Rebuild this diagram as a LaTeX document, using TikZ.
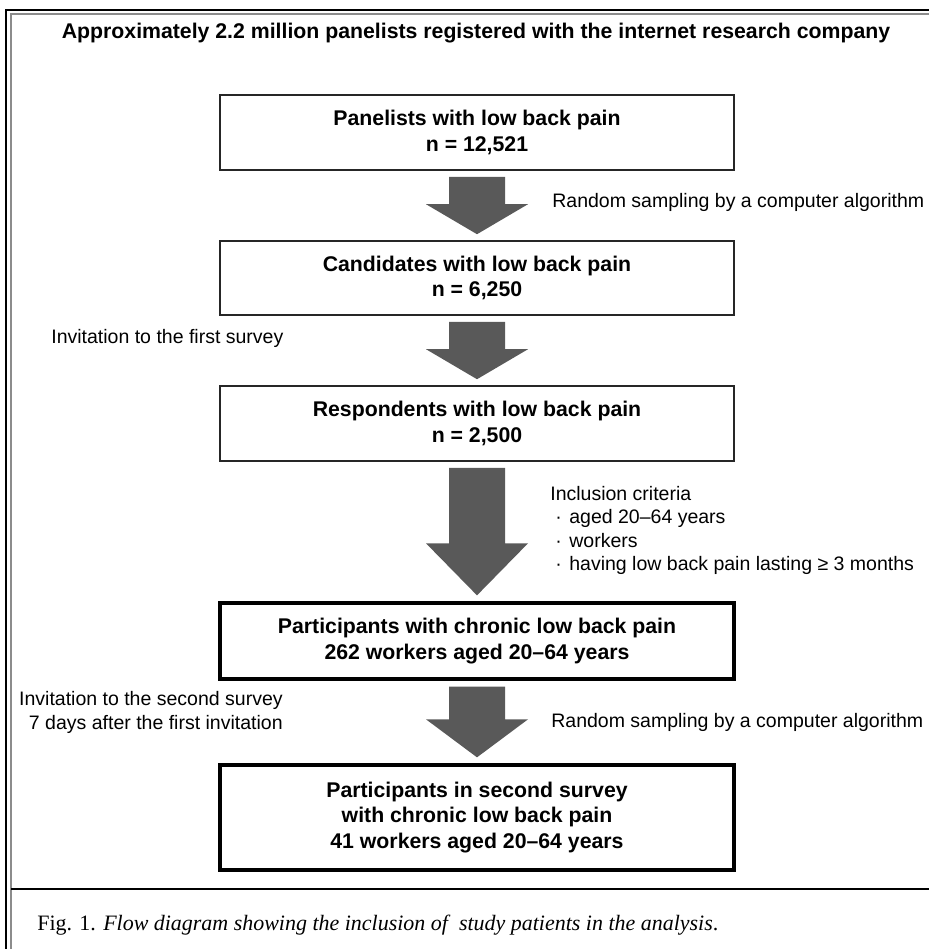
\documentclass[tikz,border=0pt]{standalone}
\usepackage{fontspec}
\setmainfont{Liberation Serif}
\setsansfont{Liberation Sans}
\usepackage{tikz}
\usetikzlibrary{calc}

\definecolor{ArrowGray}{gray}{0.35}
\definecolor{FrameGray}{gray}{0.55}

\tikzset{
	stagebox/.style={draw=black!85, line width=0.9pt, minimum width=10.28cm, align=center,
		font=\sffamily\bfseries\fontsize{12.1}{14.5}\selectfont},
	stageboxthick/.style={stagebox, draw=black, line width=1.9pt},
	sidenote/.style={inner sep=0pt, font=\sffamily\fontsize{11.1}{13.3}\selectfont},
}

% block arrow from one box to the next: #3 = head length
\newcommand{\blockarrow}[3]{%
	\path (#1.south) +(0,-0.12) coordinate (ArrowTop);
	\path (#2.north) +(0,+0.12) coordinate (ArrowTip);
	\path (ArrowTip) +(0,#3) coordinate (ArrowBase);
	\fill[ArrowGray] ($(ArrowTop)+(-0.56,0)$) -- ($(ArrowTop)+(0.56,0)$)
		-- ($(ArrowBase)+(0.56,0)$) -- ($(ArrowBase)+(1.02,0)$) -- (ArrowTip)
		-- ($(ArrowBase)+(-1.02,0)$) -- ($(ArrowBase)+(-0.56,0)$) -- cycle;
}

\begin{document}
\begin{tikzpicture}

	\useasboundingbox (0,0) rectangle (18.58,-18.98);

	% ---------------------
	% Frame
	\draw[line width=1.1pt] (0.12,-18.98) -- (0.12,-0.20) -- (18.58,-0.20);
	\draw[FrameGray, line width=0.6pt] (0.22,-18.98) -- (0.22,-0.28) -- (18.58,-0.28);
	\draw[line width=1.1pt] (0.22,-17.78) -- (18.58,-17.78);

	% ---------------------
	% Box centres
	\coordinate (PanelistsC) at (9.54cm,-2.65cm);
	\path (PanelistsC)    +(0,-2.91cm) coordinate (CandidatesC);
	\path (CandidatesC)   +(0,-2.91cm) coordinate (RespondentsC);
	\path (RespondentsC)  +(0,-4.35cm) coordinate (ParticipantsC);
	\path (ParticipantsC) +(0,-3.53cm) coordinate (SecondC);

	% ---------------------
	\node[font=\sffamily\bfseries\fontsize{12.1}{14.5}\selectfont] (Title) at (9.52,-0.66)
		{Approximately 2.2 million panelists registered with the internet research company};

	\node[stagebox, minimum height=1.5cm]  (Panelists)    at (PanelistsC)    {Panelists with low back pain\\ n = 12,521};
	\node[stagebox, minimum height=1.48cm] (Candidates)   at (CandidatesC)   {Candidates with low back pain\\ n = 6,250};
	\node[stagebox, minimum height=1.5cm]  (Respondents)  at (RespondentsC)  {Respondents with low back pain\\ n = 2,500};
	\node[stageboxthick, minimum height=1.52cm] (Participants) at (ParticipantsC) {Participants with chronic low back pain\\ 262 workers aged 20–64 years};
	\node[stageboxthick, minimum height=2.1cm]  (Second)       at (SecondC)       {Participants in second survey\\ with chronic low back pain\\ 41 workers aged 20–64 years};

	% ---------------------
	% Arrows
	\blockarrow{Panelists}{Candidates}{0.6}
	\blockarrow{Candidates}{Respondents}{0.6}
	\blockarrow{Respondents}{Participants}{1.04}
	\blockarrow{Participants}{Second}{0.76}

	% ---------------------
	% Side notes
	\node[sidenote, anchor=west] (SamplingA) at (11.04,-4.04) {Random sampling by a computer algorithm};
	\node[sidenote, anchor=west] (InviteA) at (1.02,-6.76) {Invitation to the first survey};
	\node[sidenote, anchor=north west, align=left] (Criteria) at (11.0,-9.72)
		{Inclusion criteria\\
		 \hspace*{0.1cm}·\hspace{0.15cm}aged 20–64 years\\
		 \hspace*{0.1cm}·\hspace{0.15cm}workers\\
		 \hspace*{0.1cm}·\hspace{0.15cm}having low back pain lasting ≥ 3 months};
	\node[sidenote, anchor=north east, align=right, font=\sffamily\fontsize{11.1}{13.8}\selectfont] (InviteB) at (5.66,-13.82)
		{Invitation to the second survey\\ 7 days after the first invitation};
	\node[sidenote, anchor=west] (SamplingB) at (11.02,-14.44) {Random sampling by a computer algorithm};

	% ---------------------
	% Caption
	\node[anchor=west, inner sep=0pt, font=\fontsize{12.5}{15}\selectfont] (Caption) at (0.74,-18.5)
		{Fig. 1. \textit{Flow diagram showing the inclusion of\ \ study patients in the analysis}.};

\end{tikzpicture}
\end{document}
